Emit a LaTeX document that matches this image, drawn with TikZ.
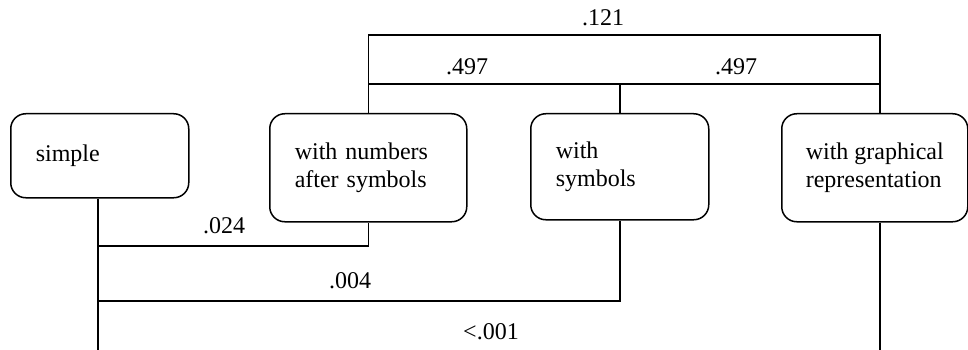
\documentclass[tikz,border=0pt]{standalone}
\usepackage{fontspec}
\setmainfont{Liberation Serif}
\begin{document}
\begin{tikzpicture}[x=1pt, y=-1pt,
  font=\fontsize{24}{28}\selectfont,
  box/.style={draw, line width=1.5pt, rounded corners=15pt, align=left,
    inner xsep=25pt, inner ysep=0pt, anchor=north west},
  link/.style={line width=1.5pt},
  pval/.style={inner sep=0pt, anchor=base}]
\useasboundingbox (0,0) rectangle (968,350);

% conditions
\node[box, text width=128pt, minimum height=84pt]  (s) at (10,113)  {simple};
\node[box, text width=147pt, minimum height=108pt] (n) at (269,113) {with numbers\\after symbols};
\node[box, text width=128pt, minimum height=106pt] (y) at (530,113) {with\\symbols};
\node[box, inner xsep=0pt, minimum width=186pt, minimum height=108pt] (g) at (781,113) {with graphical\\representation};

% anchor columns and bracket levels
\coordinate (gx) at (880,350);
\coordinate (sx) at (98,350);
\coordinate (top) at (0,35);
\coordinate (mid) at (0,84);
\coordinate (lowa) at (0,246);
\coordinate (lowb) at (0,301);

% upper brackets
\draw[link] (n.north) -- (n.north |- top) -- (gx |- top) -- (g.north -| gx);
\draw[link] (n.north |- mid) -- (gx |- mid);
\draw[link] (y.north) -- (y.north |- mid);

% lower brackets
\draw[link] (s.south -| sx) -- (sx);
\draw[link] (sx |- lowa) -- (n.south |- lowa) -- (n.south);
\draw[link] (sx |- lowb) -- (y.south |- lowb) -- (y.south);
\draw[link] (g.south -| gx) -- (gx);

% p-values
\node[pval] (p1) at (603,26)  {.121};
\node[pval] (p2) at (467,75)  {.497};
\node[pval] (p3) at (736,75)  {.497};
\node[pval] (p4) at (224,233) {.024};
\node[pval] (p5) at (350,288) {.004};
\node[pval] (p6) at (491,339) {<.001};
\end{tikzpicture}
\end{document}
